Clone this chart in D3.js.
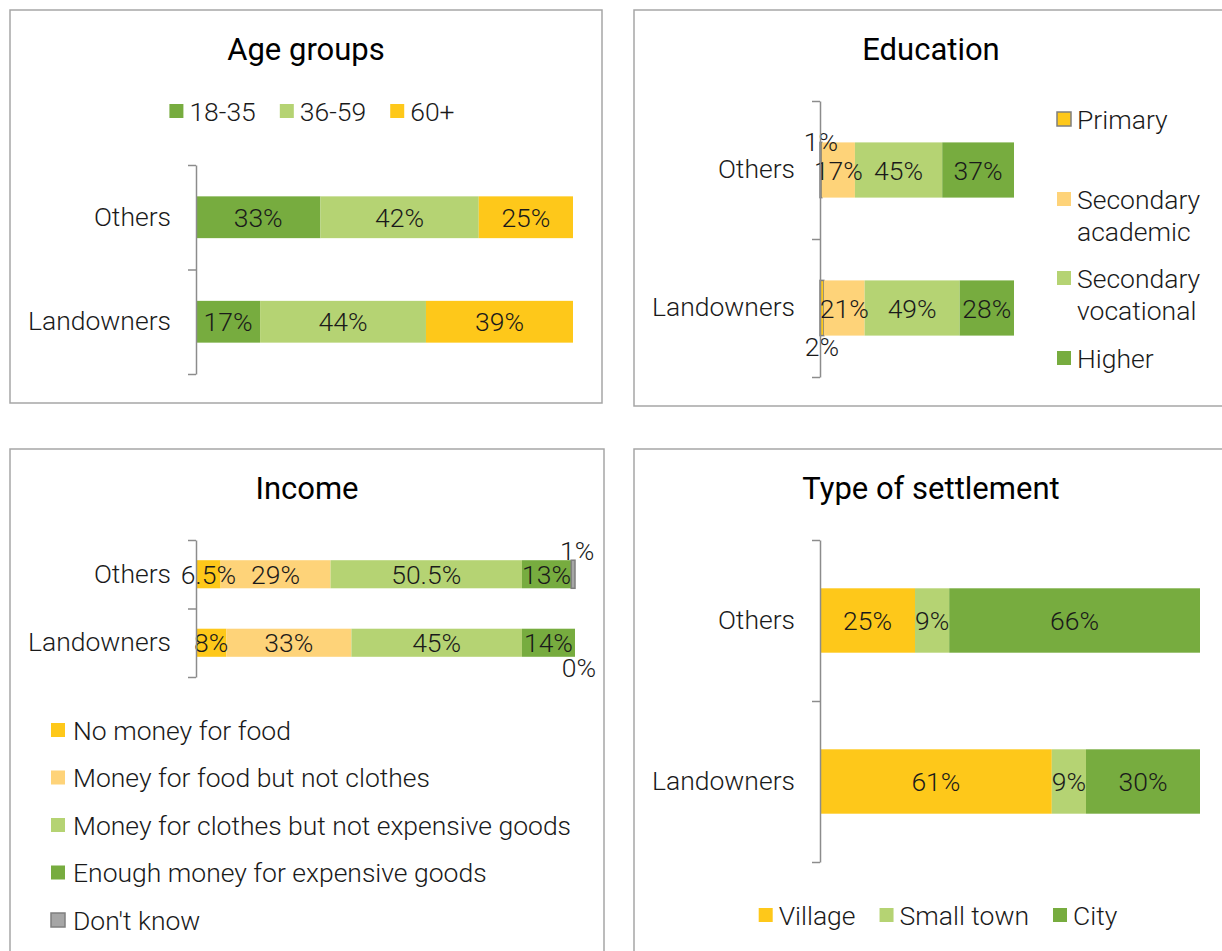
<!DOCTYPE html>
<html>
<head>
<meta charset="utf-8">
<script src="https://cdn.jsdelivr.net/npm/d3@7"></script>
<style>
  body { margin: 0; background: #fff; }
  svg { display: block; font-family: Roboto, "Noto Sans", sans-serif; font-weight: 300; }
</style>
</head>
<body>
<svg id="chart" width="1222" height="951"></svg>
<script>
// categories shared by all four panels
const categories = ["Others", "Landowners"];

// age groups
const ageSeries = ["18-35", "36-59", "60+"];
const ageOthers = [33, 42, 25];
const ageLandowners = [17, 44, 39];

// education
const eduSeries = ["Primary", "Secondary academic", "Secondary vocational", "Higher"];
const eduLegendLines = [["Primary"], ["Secondary", "academic"], ["Secondary", "vocational"], ["Higher"]];
const eduOthers = [1, 17, 45, 37];
const eduLandowners = [2, 21, 49, 28];

// income
const incSeries = ["No money for food", "Money for food but not clothes",
  "Money for clothes but not expensive goods", "Enough money for expensive goods", "Don't know"];
const incOthers = [6.5, 29, 50.5, 13, 1];
const incLandowners = [8, 33, 45, 14, 0];

// type of settlement
const setSeries = ["Village", "Small town", "City"];
const setOthers = [25, 9, 66];
const setLandowners = [61, 9, 30];

const C = {
  dkgreen: "#77ac3f", ltgreen: "#b5d373", yellow: "#fec81a",
  peach: "#fed379", gray: "#a6a6a6", axis: "#8c8c8c", frame: "#a6a6a6", text: "#1a1a1a"
};
const FS = "26.5px";

const svg = d3.select("#chart");

// panel frames
[[10, 10, 592, 393], [634, 10, 600, 396], [10, 449, 594, 520], [634, 449, 600, 520]].forEach(f => {
  svg.append("rect").attr("x", f[0]).attr("y", f[1]).attr("width", f[2]).attr("height", f[3])
    .attr("fill", "none").attr("stroke", C.frame).attr("stroke-width", 1.5);
});

function drawPanel(p) {
  const g = svg.append("g");
  const table = categories.map((c, i) => {
    const row = { cat: c };
    p.series.forEach((s, j) => row[s] = p.values[i][j]);
    return row;
  });
  const stack = d3.stack().keys(p.series)(table);

  const x = d3.scaleLinear().domain([0, 100]).range([p.x0, p.x1]);
  const y = d3.scaleBand().domain(categories).range([p.y0, p.y1])
    .paddingInner(p.pad).paddingOuter(p.pad / 2);
  const yEdge = d3.scaleLinear().domain([0, categories.length]).range([p.y0, p.y1]);

  // title
  g.append("text").attr("x", p.titleX).attr("y", p.titleY).attr("text-anchor", "middle")
    .style("font-size", "31px").style("font-weight", 400).attr("fill", "#000").text(p.title);

  // bars
  const layer = g.selectAll("g.layer").data(stack).join("g").attr("class", "layer")
    .attr("fill", (d, i) => p.colors[i]);
  layer.selectAll("rect").data(d => d).join("rect")
    .attr("x", d => x(d[0]))
    .attr("y", d => y(d.data.cat))
    .attr("width", d => x(d[1]) - x(d[0]))
    .attr("height", y.bandwidth())
    .attr("stroke", function () { return p.outlined.includes(d3.select(this.parentNode).datum().index) ? "#7f7f7f" : "none"; })
    .attr("stroke-width", 1.5);

  // data labels
  stack.forEach((s, si) => {
    s.forEach((d, ci) => {
      const v = d[1] - d[0];
      const cx = (x(d[0]) + x(d[1])) / 2;
      let ly = y(d.data.cat) + y.bandwidth() / 2, base = "central";
      const out = p.outside[si];
      if (out) {
        base = "auto";
        ly = out[ci] === "above" ? y(d.data.cat) + p.aboveDy : y(d.data.cat) + y.bandwidth() + 20;
      }
      g.append("text").attr("x", cx + (out ? p.outDx : 0)).attr("y", ly)
        .attr("text-anchor", "middle").attr("dominant-baseline", base)
        .style("font-size", FS).attr("fill", C.text).text(v + "%");
    });
  });

  // axis spine with ticks at band edges
  const spine = g.append("g").attr("transform", `translate(${p.x0},0)`)
    .call(d3.axisLeft(yEdge).tickValues(d3.range(categories.length + 1)).tickSize(8).tickSizeOuter(0).tickFormat(""));
  spine.selectAll("path, line").attr("stroke", C.axis).attr("stroke-width", 1.5);

  // category labels
  const lab = g.append("g").attr("transform", `translate(${p.x0},0)`)
    .call(d3.axisLeft(y).tickSize(0).tickPadding(25));
  lab.select(".domain").remove();
  lab.selectAll("text").style("font-size", FS).style("font-family", "Roboto, sans-serif")
    .attr("fill", C.text);

  p.legend(g);
}

function marker(g, x, y, color, outlined) {
  g.append("rect").attr("x", x).attr("y", y - 7).attr("width", 14).attr("height", 14)
    .attr("fill", color).attr("stroke", outlined ? "#7f7f7f" : "none").attr("stroke-width", 1.5);
}

function rowLegend(g, names, colors, cx, cy, gap) {
  const lg = g.append("g");
  let xx = 0;
  names.forEach((n, i) => {
    marker(lg, xx, cy, colors[i], false);
    const t = lg.append("text").attr("x", xx + 20).attr("y", cy).attr("dominant-baseline", "central")
      .style("font-size", FS).attr("fill", C.text).text(n);
    xx += 20 + t.node().getComputedTextLength() + gap;
  });
  const w = xx - gap;
  lg.attr("transform", `translate(${cx - w / 2},0)`);
}

drawPanel({
  title: "Age groups", titleX: 306, titleY: 60,
  series: ageSeries, values: [ageOthers, ageLandowners],
  colors: [C.dkgreen, C.ltgreen, C.yellow], outlined: [],
  x0: 196, x1: 573, y0: 165, y1: 374, pad: 0.6, outside: {}, outDx: 0, aboveDy: 0,
  legend: g => rowLegend(g, ageSeries, [C.dkgreen, C.ltgreen, C.yellow], 312, 111, 24)
});

drawPanel({
  title: "Education", titleX: 931, titleY: 60,
  series: eduSeries, values: [eduOthers, eduLandowners],
  colors: [C.yellow, C.peach, C.ltgreen, C.dkgreen], outlined: [0],
  x0: 820, x1: 1014, y0: 101, y1: 377, pad: 0.6,
  outside: { 0: ["above", "below"] }, outDx: 0, aboveDy: 9,
  legend: g => {
    const rows = [119, 199, 278, 358];
    const cols = [C.yellow, C.peach, C.ltgreen, C.dkgreen];
    eduLegendLines.forEach((lines, i) => {
      marker(g, 1057, rows[i], cols[i], i === 0);
      lines.forEach((l, k) => g.append("text").attr("x", 1077).attr("y", rows[i] + k * 32)
        .attr("dominant-baseline", "central").style("font-size", FS).attr("fill", C.text).text(l));
    });
  }
});

drawPanel({
  title: "Income", titleX: 307, titleY: 499,
  series: incSeries, values: [incOthers, incLandowners],
  colors: [C.yellow, C.peach, C.ltgreen, C.dkgreen, C.gray], outlined: [4],
  x0: 196, x1: 575, y0: 540, y1: 677, pad: 0.59,
  outside: { 4: ["above", "below"] }, outDx: 4, aboveDy: 0,
  legend: g => {
    const cols = [C.yellow, C.peach, C.ltgreen, C.dkgreen, C.gray];
    incSeries.forEach((n, i) => {
      const yy = 730 + i * 47.5;
      marker(g, 51, yy, cols[i], i === 4);
      g.append("text").attr("x", 73).attr("y", yy).attr("dominant-baseline", "central")
        .style("font-size", FS).attr("fill", C.text).text(n);
    });
  }
});

drawPanel({
  title: "Type of settlement", titleX: 931, titleY: 499,
  series: setSeries, values: [setOthers, setLandowners],
  colors: [C.yellow, C.ltgreen, C.dkgreen], outlined: [],
  x0: 820, x1: 1200, y0: 540, y1: 862, pad: 0.6, outside: {}, outDx: 0, aboveDy: 0,
  legend: g => rowLegend(g, setSeries, [C.yellow, C.ltgreen, C.dkgreen], 938, 915, 24)
});
</script>
</body>
</html>
